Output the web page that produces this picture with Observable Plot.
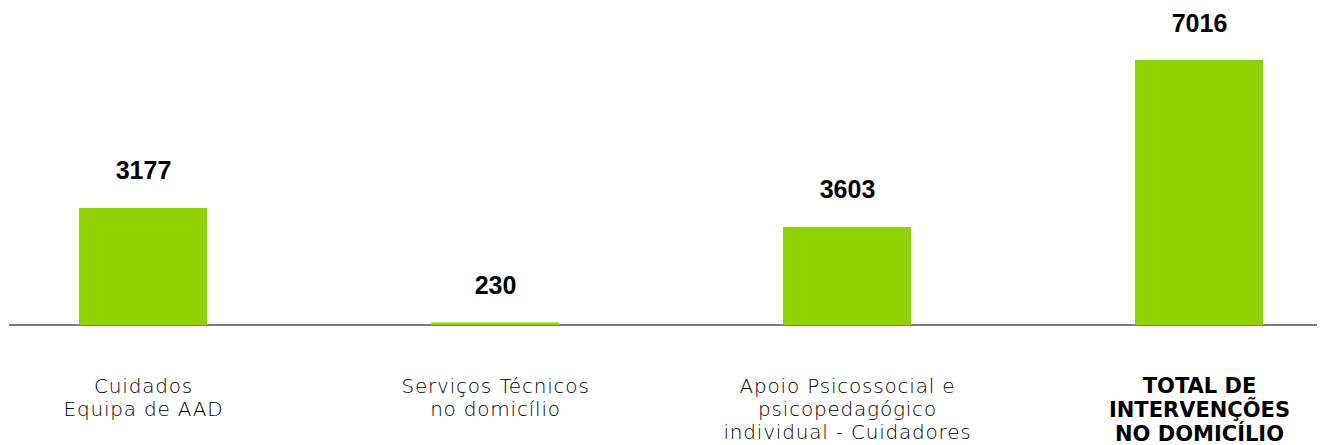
<!DOCTYPE html>
<html>
<head>
<meta charset="utf-8">
<script src="https://cdn.jsdelivr.net/npm/d3@7"></script>
<script src="https://cdn.jsdelivr.net/npm/@observablehq/plot@0.6"></script>
<style>
  html, body { margin: 0; padding: 0; background: #fff; }
  #chart svg { display: block; }
</style>
</head>
<body>
<div id="chart"></div>
<script>
// Categories (x axis labels)
const categories = [
  "Cuidados\nEquipa de AAD",
  "Serviços Técnicos\nno domicílio",
  "Apoio Psicossocial e\npsicopedagógico\nindividual - Cuidadores",
  "TOTAL DE\nINTERVENÇÕES\nNO DOMICÍLIO"
];
// Value labels shown above the bars
const values = [3177, 230, 3603, 7016];
// Bar lengths as drawn in the picture (same units)
const barLengths = [3098, 66, 2595, 7016];
// Which category is emphasised (bold)
const emphasised = [false, false, false, true];

const data = categories.map((c, i) => ({
  category: c,
  value: values[i],
  bar: barLengths[i],
  bold: emphasised[i]
}));

const chart = Plot.plot({
  width: 1321,
  height: 445,
  marginTop: 60,
  marginBottom: 120,
  marginLeft: 9,
  marginRight: 4,
  x: {
    domain: categories,
    paddingInner: 0.6364,
    paddingOuter: 0.1733,
    align: 0.566,
    axis: null
  },
  y: { domain: [0, 7016], axis: null },
  marks: [
    Plot.ruleY([0], { stroke: "#555", strokeWidth: 1.5, dy: -0.5 }),
    Plot.barY(data, { x: "category", y: "bar", fill: "#8fd400" }),
    Plot.text(data, {
      x: "category", y: "bar", text: d => String(d.value),
      dy: -37, fontSize: 25, fontWeight: "bold", fill: "#000",
      fontFamily: "Liberation Sans, Arial, sans-serif"
    }),
    Plot.text(data.filter(d => !d.bold), {
      x: "category", y: () => 0, text: "category",
      lineAnchor: "top", dy: 51, lineHeight: 1.16,
      fontSize: 20, fontWeight: 200, fill: "#000",
      fontFamily: "DejaVu Sans, sans-serif"
    }),
    Plot.text(data.filter(d => d.bold), {
      x: "category", y: () => 0, text: "category",
      lineAnchor: "top", dy: 51, lineHeight: 1.13,
      fontSize: 21, fontWeight: "bold", fill: "#000",
      fontFamily: "DejaVu Sans, sans-serif"
    })
  ]
});
// widen the light category labels slightly (second text mark)
d3.select(chart).selectAll('g[aria-label="text"]')
  .filter((d, i) => i === 1)
  .style("letter-spacing", "0.8px");
document.getElementById("chart").appendChild(chart);
</script>
</body>
</html>
